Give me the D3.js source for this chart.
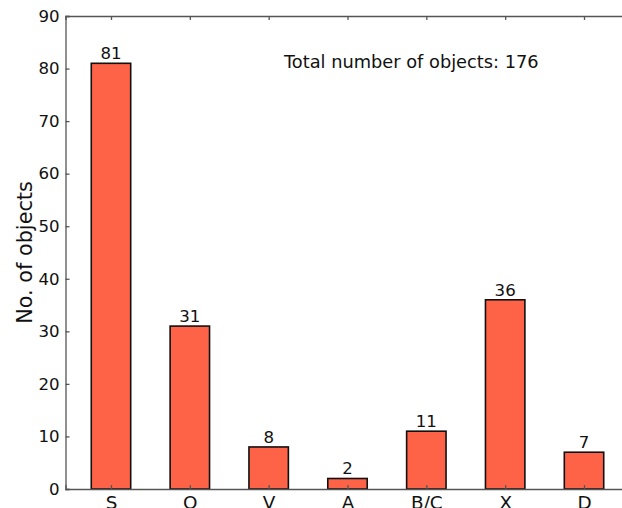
<!DOCTYPE html>
<html>
<head>
<meta charset="utf-8">
<script src="https://cdn.jsdelivr.net/npm/d3@7"></script>
<style>
  html, body { margin: 0; padding: 0; background: #fff; }
  svg { display: block; font-family: "DejaVu Sans", sans-serif; }
</style>
</head>
<body>
<svg id="chart" width="622" height="508"></svg>
<script>
// Object counts per class
const categories = ["S", "O", "V", "A", "B/C", "X", "D"];
const counts = [81, 31, 8, 2, 11, 36, 7];
const yTicks = [0, 10, 20, 30, 40, 50, 60, 70, 80, 90];
const totalLabel = "Total number of objects: 176";

const svg = d3.select("#chart");
const plotLeft = 65.5, plotTop = 16, plotBottom = 489;
const tickFont = 16.6;

// Category index → pixel position (axis spans a bit past the first/last bar)
const x = d3.scaleLinear().domain([-0.577, 6.577]).range([plotLeft, 629.5]);
const y = d3.scaleLinear().domain([0, 90]).range([plotBottom, plotTop]);
const barW = x(0.5) - x(0);

const axisColor = "#555";

// Bars
svg.append("g").selectAll("rect")
  .data(counts)
  .join("rect")
  .attr("x", (d, i) => x(i) - barW / 2)
  .attr("y", d => y(d))
  .attr("width", barW)
  .attr("height", d => y(0) - y(d))
  .attr("fill", "#ff6347")
  .attr("stroke", "#111")
  .attr("stroke-width", 1.6);

// Value labels
svg.append("g").selectAll("text")
  .data(counts)
  .join("text")
  .attr("x", (d, i) => x(i))
  .attr("y", d => y(d) - 4)
  .attr("text-anchor", "middle")
  .attr("font-size", tickFont)
  .attr("fill", "#111")
  .text(d => d);

// Left axis (ticks pointing inward)
const yAxis = d3.axisLeft(y).tickValues(yTicks).tickSize(-4).tickPadding(6);
const gy = svg.append("g").attr("transform", `translate(${plotLeft},0)`).call(yAxis);
gy.selectAll("text").attr("font-size", tickFont).attr("fill", "#111").attr("font-family", "DejaVu Sans, sans-serif");

// Bottom axis (ticks pointing inward)
const xAxis = d3.axisBottom(x).tickValues(d3.range(categories.length))
  .tickFormat(i => categories[i]).tickSize(-4).tickPadding(6.5);
const gx = svg.append("g").attr("transform", `translate(0,${plotBottom})`).call(xAxis);
gx.selectAll("text").attr("font-size", 18.4).attr("fill", "#111").attr("font-family", "DejaVu Sans, sans-serif");

// Top axis: mirrored ticks, no labels
const xTop = d3.axisTop(x).tickValues(d3.range(categories.length))
  .tickFormat("").tickSize(-4);
svg.append("g").attr("transform", `translate(0,${plotTop})`).call(xTop);

svg.selectAll(".domain").attr("stroke", axisColor).attr("stroke-width", 1.3);
svg.selectAll(".tick line").attr("stroke", axisColor).attr("stroke-width", 1.3);

// Axis title
svg.append("text")
  .attr("transform", `translate(32,${(plotTop + plotBottom) / 2}) rotate(-90)`)
  .attr("text-anchor", "middle")
  .attr("font-size", 20.8)
  .attr("fill", "#111")
  .text("No. of objects");

// Total annotation
svg.append("text")
  .attr("x", 284)
  .attr("y", 68)
  .attr("font-size", 17.8)
  .attr("fill", "#111")
  .text(totalLabel);
</script>
</body>
</html>
